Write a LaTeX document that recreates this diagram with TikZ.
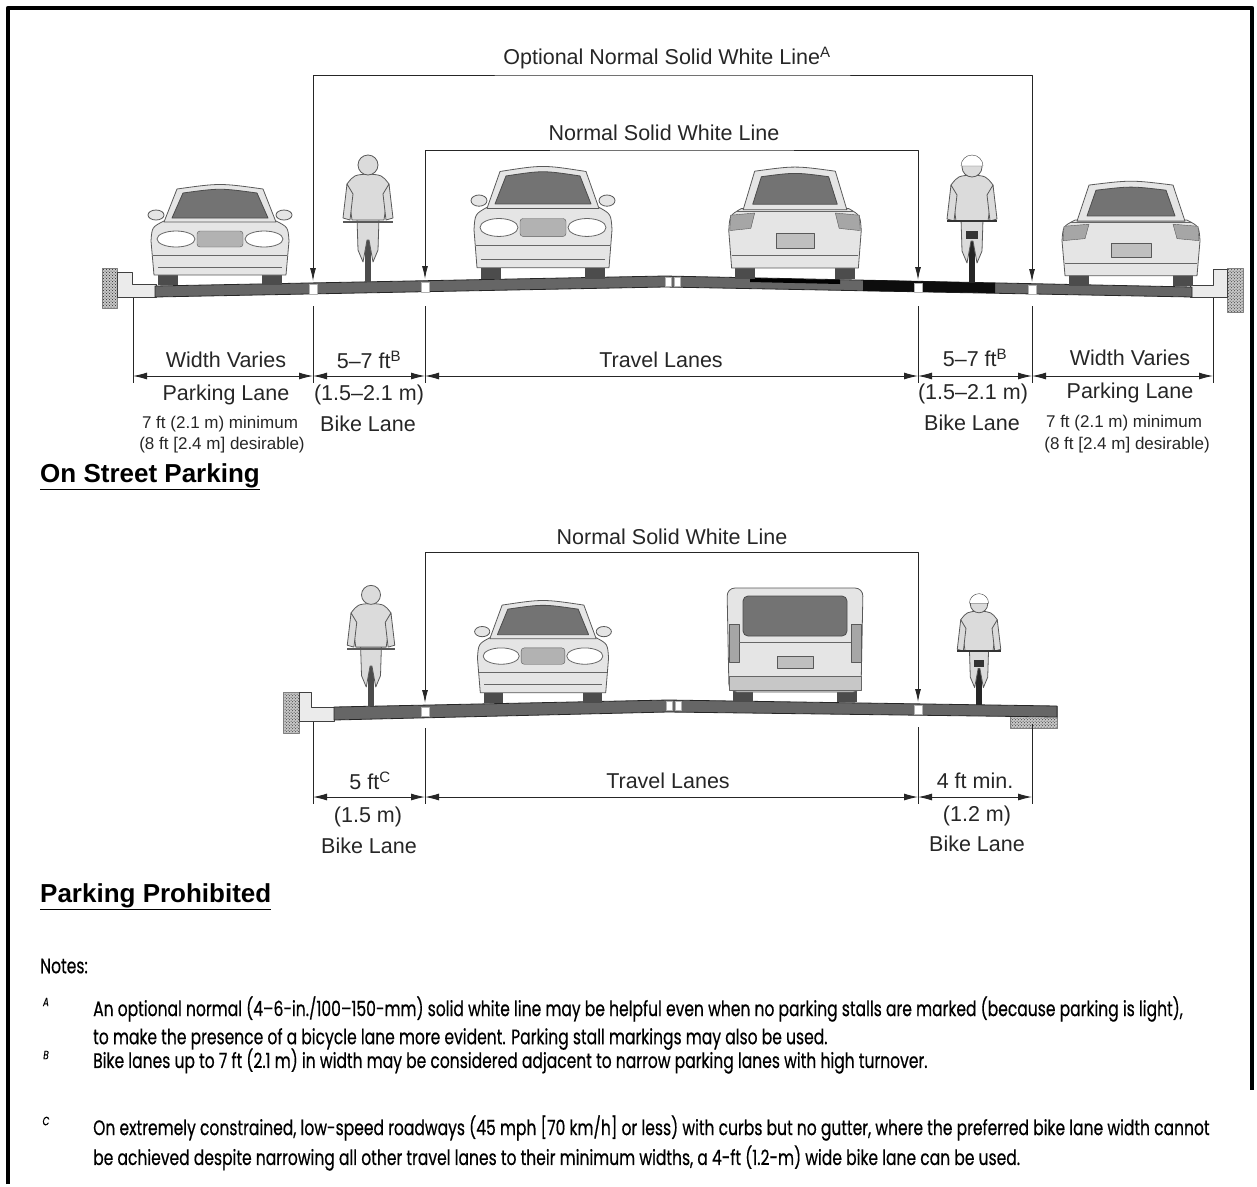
\documentclass[tikz,border=0pt]{standalone}
\usepackage{fontspec}
\setmainfont{Liberation Sans}
\newfontfamily\notefont[FakeStretch=0.74,FakeBold=0.5]{Poppins}
\usetikzlibrary{arrows.meta,patterns}

\begin{document}
\begin{tikzpicture}[x=1pt,y=-1pt,line join=round]
  \tikzstyle{frame}=[line width=4.5pt]
  \tikzstyle{road}=[fill=black!60,draw=black!85,line width=0.8pt]
  \tikzstyle{curb}=[fill=black!8,draw=black!75,line width=0.8pt]
  \tikzstyle{gravel}=[preaction={fill=black!22},pattern=crosshatch dots,pattern color=black!85,draw=black!50]
  \tikzstyle{stripe}=[fill=white,draw=black!30,line width=0.3pt]
  \tikzstyle{callout}=[draw=black!85,line width=0.9pt,{Latex[length=13pt,width=6pt]}-{Latex[length=13pt,width=6pt]}]
  \tikzstyle{extline}=[draw=black!85,line width=0.9pt]
  \tikzstyle{dimline}=[draw=black!85,line width=0.9pt,{Latex[length=14pt,width=7pt]}-{Latex[length=14pt,width=7pt]}]
  \tikzstyle{lanetext}=[font=\fontsize{21.5}{24}\selectfont,text=black!85,inner sep=0pt]
  \tikzstyle{smalltext}=[font=\fontsize{17}{20}\selectfont,text=black!85,inner sep=0pt]
  \tikzstyle{heading}=[font=\fontsize{26}{30}\selectfont\bfseries,anchor=west,inner sep=0pt]
  \tikzstyle{notetext}=[font=\notefont\fontsize{21}{24}\selectfont,anchor=west,inner sep=0pt]
  \tikzstyle{notemark}=[font=\notefont\itshape\fontsize{12}{14}\selectfont,inner sep=0pt]
  \tikzset{
    tyre/.style={fill=black!70},
    shell/.style={fill=black!10,draw=black!65,line width=0.8pt},
    glass/.style={fill=black!55,draw=black!70,line width=0.8pt},
    lamp/.style={fill=white,draw=black!60,line width=0.8pt},
    rider/.style={fill=black!14,draw=black!65,line width=0.8pt},
    pics/carfront/.style={code={
      \fill[tyre] (-62,0) rectangle (-42,-16);
      \fill[tyre] (42,0) rectangle (62,-16);
      \filldraw[shell] (-66,-10) -- (-69,-44) .. controls (-68,-58) .. (-56,-64) -- (56,-64) .. controls (68,-58) .. (69,-44) -- (66,-10) -- cycle;
      \filldraw[shell] (-56,-63) -- (-43,-96) .. controls (0,-102) .. (43,-96) -- (56,-63) -- cycle;
      \filldraw[glass] (-48,-67) -- (-37,-92) .. controls (0,-97) .. (37,-92) -- (48,-67) -- cycle;
      \filldraw[shell] (-64,-70) ellipse [x radius=8,y radius=5];
      \filldraw[shell] (64,-70) ellipse [x radius=8,y radius=5];
      \filldraw[lamp] (-44,-46) ellipse [x radius=19,y radius=8];
      \filldraw[lamp] (44,-46) ellipse [x radius=19,y radius=8];
      \filldraw[fill=black!30,draw=black!65,rounded corners=3pt] (-23,-54) rectangle (23,-38);
      \draw[black!60] (-67,-30) -- (67,-30) (-62,-18) -- (62,-18);
    }},
    pics/carrear/.style={code={
      \fill[tyre] (-62,0) rectangle (-42,-16);
      \fill[tyre] (42,0) rectangle (62,-16);
      \filldraw[shell] (-66,-10) -- (-69,-44) .. controls (-68,-58) .. (-56,-64) -- (56,-64) .. controls (68,-58) .. (69,-44) -- (66,-10) -- cycle;
      \filldraw[shell] (-54,-63) -- (-42,-98) .. controls (0,-103) .. (42,-98) -- (54,-63) -- cycle;
      \filldraw[glass] (-44,-68) -- (-35,-93) .. controls (0,-97) .. (35,-93) -- (44,-68) -- cycle;
      \filldraw[fill=black!35,draw=black!65] (-67,-58) -- (-42,-60) -- (-46,-46) -- (-68,-44) -- cycle;
      \filldraw[fill=black!35,draw=black!65] (67,-58) -- (42,-60) -- (46,-46) -- (68,-44) -- cycle;
      \filldraw[fill=black!25,draw=black!65] (-20,-42) rectangle (20,-28);
      \draw[black!60] (-66,-22) -- (66,-22) (-60,-62) -- (60,-62);
    }},
    pics/vanrear/.style={code={
      \fill[tyre] (-62,0) rectangle (-42,-16);
      \fill[tyre] (42,0) rectangle (62,-16);
      \filldraw[shell,rounded corners=8pt] (-66,-10) -- (-68,-114) -- (68,-114) -- (66,-10) -- cycle;
      \filldraw[glass,rounded corners=5pt] (-52,-66) rectangle (52,-106);
      \filldraw[fill=black!35,draw=black!65] (-66,-40) rectangle (-56,-78);
      \filldraw[fill=black!35,draw=black!65] (56,-40) rectangle (66,-78);
      \filldraw[fill=black!25,draw=black!65] (-18,-46) rectangle (18,-34);
      \filldraw[fill=black!22,draw=black!60] (-66,-26) rectangle (66,-12);
      \draw[black!60] (-56,-60) -- (56,-60);
    }},
    pics/riderfront/.style={code={
      \fill[tyre] (-3,0) rectangle (3,-44);
      \filldraw[rider] (-11,-64) -- (-10,-32) -- (-5,-20) -- (-1,-42) -- (1,-42) -- (5,-20) -- (10,-32) -- (11,-64) -- cycle;
      \filldraw[rider] (-16,-62) -- (-21,-98) .. controls (-14,-107) .. (0,-108) .. controls (14,-107) .. (21,-98) -- (16,-62) -- cycle;
      \filldraw[rider] (-21,-98) -- (-25,-64) -- (-18,-62) -- (-15,-88) -- cycle;
      \filldraw[rider] (21,-98) -- (25,-64) -- (18,-62) -- (15,-88) -- cycle;
      \draw[black!65,line width=2pt] (-25,-60) -- (25,-60);
      \filldraw[rider] (0,-117) circle [radius=10];
    }},
    pics/riderback/.style={code={
      \fill[black!85] (-3,0) rectangle (3,-46);
      \filldraw[rider] (-11,-64) -- (-10,-32) -- (-5,-20) -- (-1,-42) -- (1,-42) -- (5,-20) -- (10,-32) -- (11,-64) -- cycle;
      \filldraw[rider] (-16,-62) -- (-21,-98) .. controls (-14,-107) .. (0,-108) .. controls (14,-107) .. (21,-98) -- (16,-62) -- cycle;
      \filldraw[rider] (-21,-98) -- (-25,-64) -- (-18,-62) -- (-15,-88) -- cycle;
      \filldraw[rider] (21,-98) -- (25,-64) -- (18,-62) -- (15,-88) -- cycle;
      \draw[black!80,line width=2.5pt] (-25,-62) -- (25,-62);
      \fill[black!80] (-6,-52) rectangle (6,-44);
      \filldraw[rider] (0,-116) circle [radius=10];
      \filldraw[fill=white,draw=black!75] (-11,-117) arc [start angle=180,end angle=360,radius=11] -- cycle;
    }}
  }

  % frame
  \draw[frame] (8,1184) -- (8,8) -- (1252,8) -- (1252,1090);

  % ---- on street parking ----
  \filldraw[gravel] (102,268) rectangle (117,308);
  \filldraw[gravel] (1227,268) rectangle (1243,312);
  \filldraw[curb] (117,272) -- (132,272) -- (132,284) -- (156,284) -- (156,297) -- (117,297) -- cycle;
  \filldraw[curb] (1227,269) -- (1213,269) -- (1213,285) -- (1190,285) -- (1190,297) -- (1227,297) -- cycle;
  \filldraw[road] (155,286) -- (665,276) -- (1192,287) -- (1192,297) -- (665,287) -- (155,297) -- cycle;
  \fill[black!95] (863,280) -- (995,283) -- (995,293) -- (863,291) -- cycle;
  \fill[black] (750,278) -- (840,280) -- (840,284) -- (750,282) -- cycle;
  \filldraw[stripe] (309,284) rectangle (317,294);
  \filldraw[stripe] (421,282) rectangle (429,292);
  \filldraw[stripe] (665,277) rectangle (671,286);
  \filldraw[stripe] (674,277) rectangle (680,286);
  \filldraw[stripe] (914,283) rectangle (922,292);
  \filldraw[stripe] (1028,285) rectangle (1036,294);

  \pic at (220,285) {carfront};
  \pic at (368,282) {riderfront};
  \pic[yscale=1.12] at (543,279) {carfront};
  \pic[yscale=1.1,xscale=0.96] at (795,279) {carrear};
  \pic at (972,283) {riderback};
  \pic[yscale=1.03] at (1131,286) {carrear};

  \coordinate (optL) at (313,281);
  \coordinate (optR) at (1032,282);
  \coordinate (optTop) at (672,75);
  \draw[callout] (optL) |- (optTop) -| (optR);
  \node[lanetext] (optlbl) at (667,58) {Optional Normal Solid White Line\textsuperscript{A}};
  \coordinate (nswL) at (425,279);
  \coordinate (nswR) at (918,280);
  \coordinate (nswTop) at (672,150);
  \draw[callout] (nswL) |- (nswTop) -| (nswR);
  \node[lanetext] (nswlbl) at (664,133) {Normal Solid White Line};

  \foreach \n/\x/\y in {1/133/298,2/313/306,3/425/306,4/918/306,5/1032/306,6/1213/298}{
    \coordinate (tA\n) at (\x,\y);
    \coordinate (dA\n) at (\x,376);
    \coordinate (bA\n) at (\x,383);
    \draw[extline] (tA\n) -- (bA\n);
  }
  \foreach \a/\b in {1/2,2/3,3/4,4/5,5/6} \draw[dimline] (dA\a) -- (dA\b);

  \node[lanetext] (parkL) at (226,360) {Width Varies};
  \node[lanetext] (parkLb) at (226,395) {Parking Lane};
  \node[smalltext] (parkLc) at (220,424) {7 ft (2.1 m) minimum};
  \node[smalltext] (parkLd) at (222,445) {(8 ft [2.4 m] desirable)};
  \node[lanetext] (bikeL) at (369,360) {5–7 ft\textsuperscript{B}};
  \node[lanetext] (bikeLb) at (369,395) {(1.5–2.1 m)};
  \node[lanetext] (bikeLc) at (368,424) {Bike Lane};
  \node[lanetext] (travelA) at (661,360) {Travel Lanes};
  \node[lanetext] (bikeR) at (975,358) {5–7 ft\textsuperscript{B}};
  \node[lanetext] (bikeRb) at (973,394) {(1.5–2.1 m)};
  \node[lanetext] (bikeRc) at (972,423) {Bike Lane};
  \node[lanetext] (parkR) at (1130,358) {Width Varies};
  \node[lanetext] (parkRb) at (1130,393) {Parking Lane};
  \node[smalltext] (parkRc) at (1124,423) {7 ft (2.1 m) minimum};
  \node[smalltext] (parkRd) at (1127,445) {(8 ft [2.4 m] desirable)};

  \node[heading] (headA) at (40,477) {\underline{On Street Parking}};

  % ---- parking prohibited ----
  \filldraw[gravel] (283,692) rectangle (299,733);
  \filldraw[curb] (299,692) -- (311,692) -- (311,707) -- (334,707) -- (334,721) -- (299,721) -- cycle;
  \filldraw[gravel] (1010,706) rectangle (1057,728);
  \filldraw[road] (334,707) -- (668,700) -- (1057,706) -- (1057,717) -- (668,712) -- (334,720) -- cycle;
  \filldraw[stripe] (421,707) rectangle (429,716);
  \filldraw[stripe] (666,701) rectangle (672,710);
  \filldraw[stripe] (675,701) rectangle (681,710);
  \filldraw[stripe] (914,705) rectangle (922,714);

  \pic[scale=0.95] at (371,706) {riderfront};
  \pic[xscale=0.95,yscale=1.02] at (543,703) {carfront};
  \pic at (795,702) {vanrear};
  \pic[scale=0.87] at (979,705) {riderback};

  \coordinate (nswL2) at (425,703);
  \coordinate (nswR2) at (918,702);
  \coordinate (nswTop2) at (672,552);
  \draw[callout] (nswL2) |- (nswTop2) -| (nswR2);
  \node[lanetext] (nswlbl2) at (672,537) {Normal Solid White Line};

  \foreach \n/\x/\y in {1/313/722,2/425/728,3/918/727,4/1032/724}{
    \coordinate (tB\n) at (\x,\y);
    \coordinate (dB\n) at (\x,797);
    \coordinate (bB\n) at (\x,804);
    \draw[extline] (tB\n) -- (bB\n);
  }
  \foreach \a/\b in {1/2,2/3,3/4} \draw[dimline] (dB\a) -- (dB\b);

  \node[lanetext] (bikeB) at (370,781) {5 ft\textsuperscript{C}};
  \node[lanetext] (bikeBb) at (368,817) {(1.5 m)};
  \node[lanetext] (bikeBc) at (369,846) {Bike Lane};
  \node[lanetext] (travelB) at (668,781) {Travel Lanes};
  \node[lanetext] (bikeC) at (975,781) {4 ft min.};
  \node[lanetext] (bikeCb) at (977,816) {(1.2 m)};
  \node[lanetext] (bikeCc) at (977,844) {Bike Lane};

  \node[heading] (headB) at (40,897) {\underline{Parking Prohibited}};

  % ---- notes ----
  \node[notetext] (notes) at (40,966) {Notes:};
  \node[notemark] (markA) at (46,1002) {A};
  \node[notetext] (noteA1) at (93,1009) {An optional normal (4–6-in./100–150-mm) solid white line may be helpful even when no parking stalls are marked (because parking is light),};
  \node[notetext] (noteA2) at (93,1039) {to make the presence of a bicycle lane more evident. Parking stall markings may also be used.};
  \node[notemark] (markB) at (46,1055) {B};
  \node[notetext] (noteB) at (93,1061) {Bike lanes up to 7 ft (2.1 m) in width may be considered adjacent to narrow parking lanes with high turnover.};
  \node[notemark] (markC) at (46,1121) {C};
  \node[notetext] (noteC1) at (93,1128) {On extremely constrained, low-speed roadways (45 mph [70 km/h] or less) with curbs but no gutter, where the preferred bike lane width cannot};
  \node[notetext] (noteC2) at (93,1158) {be achieved despite narrowing all other travel lanes to their minimum widths, a 4-ft (1.2-m) wide bike lane can be used.};

  \useasboundingbox (0,0) rectangle (1257,1184);
\end{tikzpicture}
\end{document}
